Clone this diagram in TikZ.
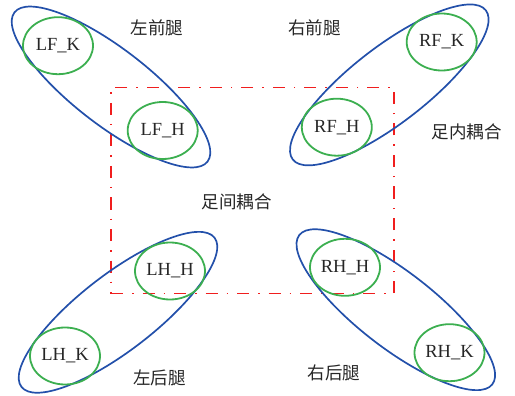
\documentclass[tikz,border=0pt]{standalone}
\usepackage{fontspec}
\setmainfont{Liberation Serif}
\newfontfamily\cjk{Noto Sans CJK SC}
\usetikzlibrary{shapes.geometric}
\definecolor{legblue}{RGB}{35,80,170}
\definecolor{jointgreen}{RGB}{60,175,80}
\definecolor{couplered}{RGB}{240,30,30}
\tikzset{
  joint/.style={draw=jointgreen, line width=1.8pt, ellipse, inner sep=0pt,
    minimum width=70pt, minimum height=57pt, font=\fontsize{18.5}{20}\selectfont, text=black!85},
  leg/.style={draw=legblue, line width=1.7pt, ellipse, inner sep=0pt,
    minimum width=244pt, minimum height=76pt},
  coupling/.style={color=couplered, draw=couplered, line width=1.9pt, dash pattern=on 12pt off 9pt on 1.5pt off 9pt},
  lab/.style={font=\cjk\fontsize{17.5}{20}\selectfont, text=black!85, inner sep=0pt}
}
\begin{document}
\begin{tikzpicture}[x=1pt,y=-1pt]
\useasboundingbox (0,0) rectangle (515,396);
\node[coupling, minimum width=283pt, minimum height=206pt, inner sep=0pt] (box) at (252.5,190.5) {};
% legs
\node[leg, rotate=-37.7] (LF) at (111,87) {};
\node[leg, rotate=37.7] (RF) at (389.3,84.9) {};
\node[leg, rotate=37.7] (LH) at (118,312.3) {};
\node[leg, rotate=-37.7] (RH) at (395.8,309.7) {};
% joints
\node[joint] (LFK) at (58,45.7) {LF\_K};
\node[joint] (LFH) at (162.7,130.5) {LF\_H};
\node[joint] (RFK) at (441.7,42) {RF\_K};
\node[joint] (RFH) at (336.8,127.2) {RF\_H};
\node[joint] (LHH) at (170,271) {LH\_H};
\node[joint] (LHK) at (65,356) {LH\_K};
\node[joint] (RHH) at (345,267.3) {RH\_H};
\node[joint] (RHK) at (449.5,352.7) {RH\_K};
% labels
\node[lab] (tLF) at (157,28.3) {左前腿};
\node[lab] (tRF) at (314.5,28.3) {右前腿};
\node[lab] (tIn) at (466.7,132) {足内耦合};
\node[lab] (tOut) at (236.7,202.2) {足间耦合};
\node[lab] (tLH) at (159.7,378) {左后腿};
\node[lab] (tRH) at (333.8,372.5) {右后腿};
\end{tikzpicture}
\end{document}
